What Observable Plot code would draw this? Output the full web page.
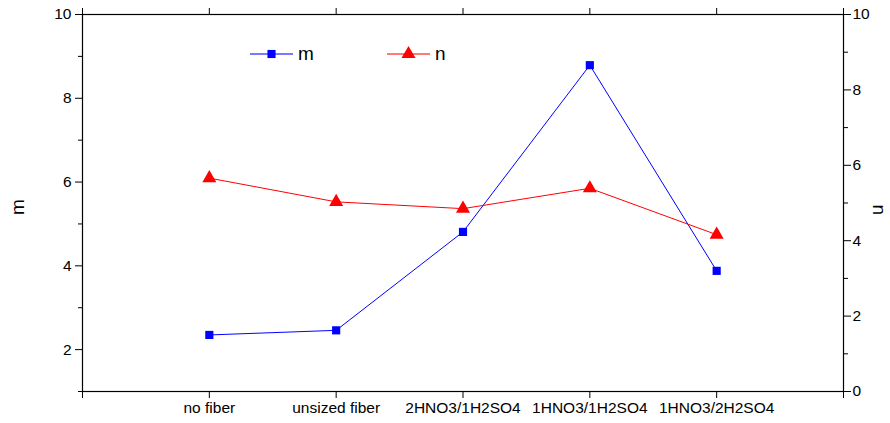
<!DOCTYPE html>
<html><head><meta charset="utf-8">
<script src="https://cdn.jsdelivr.net/npm/d3@7"></script>
<script src="https://cdn.jsdelivr.net/npm/@observablehq/plot@0.6"></script>
<style>
body{margin:0;background:#fff;}
#wrap{position:relative;width:890px;height:423px;font-family:"Liberation Sans",Arial,sans-serif;}
#legend{position:absolute;left:0;top:0;}
</style>
</head><body><div id="wrap"></div>
<script>
const categories = ["no fiber","unsized fiber","2HNO3/1H2SO4","1HNO3/1H2SO4","1HNO3/2H2SO4"];
const mValues = [2.35, 2.46, 4.81, 8.79, 3.88];
const nValues = [5.66, 5.03, 4.85, 5.39, 4.16];
const leftTicks = [2, 4, 6, 8, 10];
const leftMinor = [1, 3, 5, 7, 9];
const rightTicks = [0, 2, 4, 6, 8, 10];
const rightMinor = [1, 3, 5, 7, 9];
const seriesNames = ["m", "n"];

const mDomain = [1, 10], nDomain = [0, 10];
const toM = n => mDomain[0] + (n - nDomain[0]) * (mDomain[1] - mDomain[0]) / (nDomain[1] - nDomain[0]);
const fromM = m => Math.round(nDomain[0] + (m - mDomain[0]) * (nDomain[1] - nDomain[0]) / (mDomain[1] - mDomain[0]));
const rows = categories.map((c, i) => ({pos: i + 1, cat: c, m: mValues[i], n: toM(nValues[i])}));
const xTicks = d3.range(0, categories.length + 2);

const chart = Plot.plot({
  width: 890, height: 423,
  marginLeft: 82, marginRight: 47, marginTop: 14, marginBottom: 32,
  style: {fontFamily: '"Liberation Sans", Arial, sans-serif', fontSize: "15.5px", color: "#000", background: "#fff"},
  x: {domain: [0, categories.length + 1], type: "linear"},
  y: {domain: mDomain},
  marks: [
    Plot.axisX({anchor: "bottom", ticks: xTicks, tickSize: 7, tickPadding: 3, tickFormat: i => categories[i - 1] ?? "", label: null, fontSize: 15.5}),
    Plot.axisX({anchor: "top", ticks: xTicks, tickSize: 7, tickFormat: () => "", label: null}),
    Plot.axisY({anchor: "left", ticks: leftTicks, tickSize: 7, tickPadding: 4, label: null, fontSize: 15.5}),
    Plot.axisY({anchor: "left", ticks: leftMinor, tickSize: 4, tickFormat: () => "", label: null}),
    Plot.axisY({anchor: "right", ticks: rightTicks.map(toM), tickSize: 7, tickPadding: 2, tickFormat: d => String(fromM(d)), label: null, fontSize: 15.5}),
    Plot.axisY({anchor: "right", ticks: rightMinor.map(toM), tickSize: 4, tickFormat: () => "", label: null}),
    Plot.frame({stroke: "#000", strokeWidth: 1.2}),
    Plot.line(rows, {x: "pos", y: "m", stroke: "#0000ff", strokeWidth: 1}),
    Plot.dot(rows, {x: "pos", y: "m", symbol: "square", r: 4.6, fill: "#0000ff", stroke: "none"}),
    Plot.line(rows, {x: "pos", y: "n", stroke: "#ff0000", strokeWidth: 1}),
    Plot.dot(rows, {x: "pos", y: "n", symbol: "triangle", r: 5.2, fill: "#ff0000", stroke: "none"}),
    Plot.text([seriesNames[0]], {frameAnchor: "left", dx: -65, dy: 12, rotate: -90, text: d => d, fontSize: 19}),
    Plot.text([seriesNames[1]], {frameAnchor: "right", dx: 36, dy: 12, rotate: 90, text: d => d, fontSize: 19})
  ]
});
const wrap = document.getElementById("wrap");
wrap.appendChild(chart);

// legend overlay
const ns = "http://www.w3.org/2000/svg";
const leg = document.createElementNS(ns, "svg");
leg.setAttribute("id", "legend");
leg.setAttribute("width", 890); leg.setAttribute("height", 423);
leg.style.pointerEvents = "none";
const items = [
  {name: seriesNames[0], color: "#0000ff", x0: 250, shape: "square"},
  {name: seriesNames[1], color: "#ff0000", x0: 387, shape: "triangle"}
];
const ly = 54;
items.forEach(it => {
  const g = document.createElementNS(ns, "g");
  const l = document.createElementNS(ns, "line");
  l.setAttribute("x1", it.x0); l.setAttribute("x2", it.x0 + 43);
  l.setAttribute("y1", ly); l.setAttribute("y2", ly);
  l.setAttribute("stroke", it.color); l.setAttribute("stroke-opacity", 0.7); l.setAttribute("stroke-width", 1.3);
  g.appendChild(l);
  const p = document.createElementNS(ns, "path");
  const sym = it.shape === "square" ? d3.symbolSquare : d3.symbolTriangle;
  p.setAttribute("d", d3.symbol(sym, it.shape === "square" ? 66 : 85)());
  p.setAttribute("transform", `translate(${it.x0 + 21.5},${ly})`);
  p.setAttribute("fill", it.color);
  g.appendChild(p);
  const t = document.createElementNS(ns, "text");
  t.setAttribute("x", it.x0 + 48); t.setAttribute("y", ly + 6);
  t.setAttribute("font-size", 19);
  t.setAttribute("font-family", '"Liberation Sans", Arial, sans-serif');
  t.textContent = it.name;
  g.appendChild(t);
  leg.appendChild(g);
});
wrap.appendChild(leg);
</script>
</body></html>
